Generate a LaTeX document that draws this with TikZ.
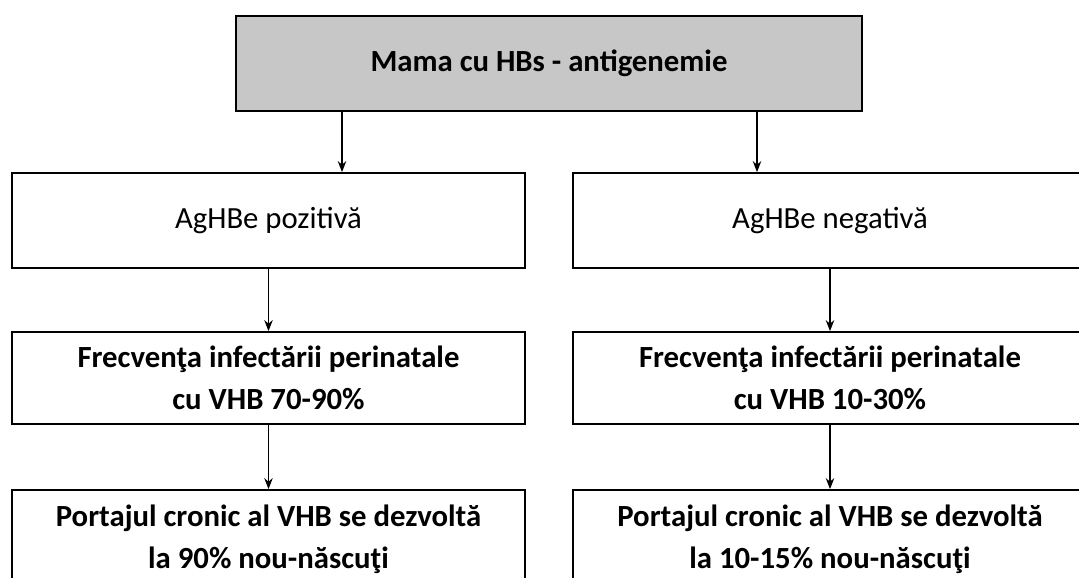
\documentclass[tikz,border=0pt]{standalone}
\usepackage{fontspec}
\setmainfont{Carlito}
\usetikzlibrary{arrows.meta, positioning, calc}

\begin{document}
\begin{tikzpicture}[
    font=\fontsize{17.5}{24}\selectfont,
    >={Stealth[length=0.22cm, width=0.17cm]},
    box/.style={draw, fill=#1, align=center, inner sep=0pt, minimum width=10.27cm, minimum height=1.9cm, line width=1pt},
    box/.default=white,
    bold/.style={font=\fontsize{17.5}{24}\selectfont\bfseries},
    arrow/.style={->, line width=0.7pt, color=black}
]
\useasboundingbox (0,0) rectangle (21.58,-11.56);

% === TOP: mother ===
\node[box=black!22, bold, minimum width=12.52cm] (mama) at (10.98, -1.27) {Mama cu HBs - antigenemie};

% === ROW 1: AgHBe ===
\node[box] (pozitiv) at (5.37, -4.41) {AgHBe pozitivă};
\node[box] (negativ) at (16.6, -4.41) {AgHBe negativă};

% === ROW 2: frequency ===
\node[box, bold, minimum height=1.84cm] (frecvP) at (5.37, -7.56) {Frecvenţa infectării perinatale\\cu VHB 70-90\%};
\node[box, bold, minimum height=1.84cm] (frecvN) at (16.6, -7.56) {Frecvenţa infectării perinatale\\cu VHB 10-30\%};

% === ROW 3: chronic carriage ===
\node[box, bold, minimum height=1.96cm] (portP) at (5.37, -10.78) {Portajul cronic al VHB se dezvoltă\\la 90\% nou-născuţi};
\node[box, bold, minimum height=1.96cm] (portN) at (16.6, -10.78) {Portajul cronic al VHB se dezvoltă\\la 10-15\% nou-născuţi};

% === ARROWS ===
\draw[arrow] ([xshift=-4.14cm]mama.south) -- ([xshift=-4.14cm]mama.south |- pozitiv.north);
\draw[arrow] ([xshift=4.16cm]mama.south) -- ([xshift=4.16cm]mama.south |- negativ.north);

\draw[arrow] (pozitiv) -- (frecvP);
\draw[arrow] (negativ) -- (frecvN);

\draw[arrow] (frecvP) -- (portP);
\draw[arrow] (frecvN) -- (portN);

\end{tikzpicture}
\end{document}
